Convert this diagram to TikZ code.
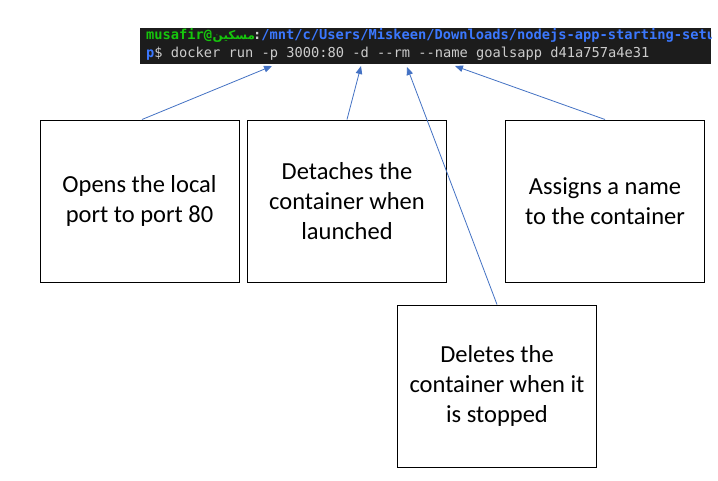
\documentclass[tikz,border=0pt]{standalone}
\usepackage{fontspec}
\setmainfont{Carlito}
\setmonofont{DejaVu Sans Mono}
\newfontfamily\arabicfont[Script=Arabic]{DejaVu Sans}
\TeXXeTstate=1
\usetikzlibrary{arrows.meta}
\definecolor{arrowblue}{HTML}{4472C4}
\definecolor{termbg}{HTML}{1C1C1C}
\definecolor{termgreen}{HTML}{16C60C}
\definecolor{termblue}{HTML}{3B78FF}
\definecolor{termgray}{HTML}{CCCCCC}
\begin{document}
\begin{tikzpicture}[x=1pt,y=-1pt,
  textbox/.style={draw=black, line width=1pt, minimum width=199pt, minimum height=162pt,
    inner sep=0pt, align=center, font=\fontsize{24.5}{30}\selectfont},
  callout/.style={draw=arrowblue, line width=0.8pt, -{Triangle[length=8pt,width=6.5pt]}},
  term/.style={font=\ttfamily\fontsize{13.7}{16}\selectfont, anchor=base west, inner sep=0pt}]
\useasboundingbox[fill=white] (0,0) rectangle (718,480);
\node[fill=termbg, minimum width=571pt, minimum height=36pt, inner sep=0pt] (term) at (425.5,46) {};
\begin{scope}
  \clip (term.south west) rectangle (term.north east);
  \node[term, text=termgreen] (user) at (146,39) {\bfseries musafir@};
  \node[term, text=termgreen, font=\arabicfont\bfseries\fontsize{12}{14}\selectfont] (host) at (212.5,39) {\beginL مسكين\endL};
  \node[term, text=termgray] (colon) at (253,39) {\bfseries :};
  \node[term, text=termblue] (path) at (261.25,39) {\bfseries /mnt/c/Users/Miskeen/Downloads/nodejs-app-starting-setup};
  \node[term, text=termgray] (cmd) at (146,57) {\textcolor{termblue}{\bfseries p}\$ docker run -p 3000:80 -d --rm --name goalsapp d41a757a4e31};
\end{scope}
\coordinate (pTip) at (272,66);
\coordinate (dTip) at (361,66);
\coordinate (rmTip) at (407,67);
\coordinate (nameTip) at (455,66);
\node[textbox] (ports) at (139.5,201) {Opens the local\\port to port 80};
\node[textbox] (detach) at (347,201) {Detaches the\\container when\\launched};
\node[textbox] (naming) at (605,201) {Assigns a name\\to the container};
\node[textbox] (remove) at (497,386) {Deletes the\\container when it\\is stopped};
\draw[callout] ([xshift=2.5pt]ports.north) -- (pTip);
\draw[callout] (detach.north) -- (dTip);
\draw[callout] (remove.north) -- (rmTip);
\draw[callout] (naming.north) -- (nameTip);
\end{tikzpicture}
\end{document}
